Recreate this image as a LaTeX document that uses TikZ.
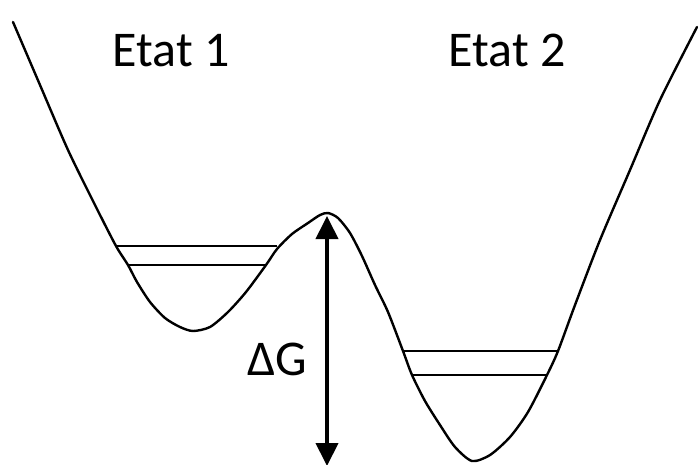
\documentclass[tikz,border=0pt]{standalone}
\usepackage{fontspec}
\setmainfont{Carlito}
\usetikzlibrary{arrows.meta}

\begin{document}
\begin{tikzpicture}[
  x=1pt, y=-1pt,
  lbl/.style={font=\fontsize{50}{60}\selectfont, inner sep=0pt, anchor=base},
  well/.style={line width=2.4pt, line join=round, line cap=round},
  lvl/.style={line width=2.6pt},
  dg/.style={line width=4pt, {Triangle[length=23pt,width=22pt]}-{Triangle[length=23pt,width=22pt]}},
]
\useasboundingbox (0,0) rectangle (698,464);
% profil d'energie
\draw[well] plot[smooth, tension=0.45] coordinates {
  (13,22) (40,85) (68,150) (95,205) (116,246) (128,265) (137,282) (150,302)
  (165,318) (180,327) (193,331) (210,327) (228,312) (246,292) (266,265)
  (277,249) (292,234) (308,223) (320,215) (328,213) (338,218) (350,233)
  (362,256) (375,285) (388,312) (403,351) (412,375) (425,401) (440,425)
  (455,447) (472,461) (490,455) (510,437) (528,412) (547,375) (558,351)
  (575,305) (600,240) (630,170) (660,100) (697,27)};
% niveaux
\coordinate (a1) at (116,246); \coordinate (b1) at (277,246);
\coordinate (a2) at (128,265); \coordinate (b2) at (266,265);
\coordinate (c1) at (403,351); \coordinate (d1) at (558,351);
\coordinate (c2) at (412,375); \coordinate (d2) at (547,375);
\draw[lvl] (a1) -- (b1);
\draw[lvl] (a2) -- (b2);
\draw[lvl] (c1) -- (d1);
\draw[lvl] (c2) -- (d2);
% barriere
\coordinate (top) at (327,216);
\coordinate (bot) at (327,466);
\draw[dg] (bot) -- (top);
\node[lbl] (e1) at (171,66) {Etat 1};
\node[lbl] (e2) at (507,66) {Etat 2};
\node[lbl] (g) at (277,375) {ΔG};
\end{tikzpicture}
\end{document}
